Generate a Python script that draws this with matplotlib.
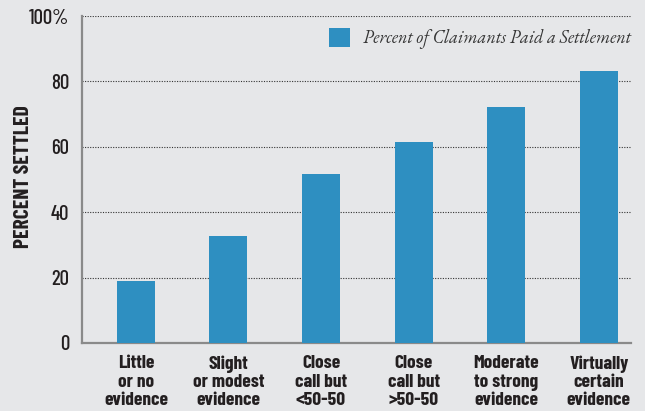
import matplotlib.pyplot as plt
import numpy as np

# categories and values
categories = ["Little\nor no\nevidence", "Slight\nor modest\nevidence", "Close\ncall but\n<50-50",
              "Close\ncall but\n>50-50", "Moderate\nto strong\nevidence", "Virtually\ncertain\nevidence"]
percent_settled = [19.0, 32.8, 51.7, 61.5, 72.2, 83.2]
y_ticks = [0, 20, 40, 60, 80, 100]
y_tick_labels = ["0", "20", "40", "60", "80", "100%"]

SANS = ["Barlow Condensed", "Roboto Condensed", "DejaVu Sans"]
SERIF = ["EB Garamond", "Liberation Serif", "DejaVu Serif"]
BG = "#e6e7e9"
BAR = "#2e8fc1"
INK = "#231f20"

fig = plt.figure(figsize=(6.45, 4.11), dpi=100, facecolor=BG)
ax = fig.add_axes([0.127, 0.1655, 0.851, 0.7955])
ax.set_facecolor(BG)

x = np.arange(len(categories))
ax.bar(x, percent_settled, width=0.41, color=BAR, zorder=3,
       label="Percent of Claimants Paid a Settlement")

ax.set_xlim(-0.583, 5.346)
ax.set_ylim(0, 100)
ax.set_yticks(y_ticks)
ax.set_yticklabels(y_tick_labels, fontfamily=SANS, fontweight="medium", fontsize=15, color=INK)
ax.set_xticks(x)
ax.set_xticklabels(categories, fontfamily=SANS, fontweight="bold", fontsize=14,
                   color=INK, linespacing=1.08)
ax.tick_params(axis="both", length=0)
ax.tick_params(axis="y", pad=9)
ax.tick_params(axis="x", pad=9)

# dotted horizontal guides
for yv in y_ticks[1:]:
    ax.axhline(yv, color="#333333", linestyle=(0, (1, 1.3)), linewidth=0.8, zorder=1)

for side in ["top", "right"]:
    ax.spines[side].set_visible(False)
for side in ["left", "bottom"]:
    ax.spines[side].set_color("#8a8a8a")
    ax.spines[side].set_linewidth(1.6)

ax.set_ylabel("PERCENT SETTLED", fontfamily=SANS, fontweight="bold", fontsize=15.5, color=INK, va="center")
ax.yaxis.set_label_coords(-0.106, 0.509)

leg = ax.legend(loc="upper right", frameon=False, handlelength=1.2, handleheight=1.2,
                handletextpad=0.7, borderpad=0, borderaxespad=0, bbox_to_anchor=(1.0, 0.963),
                prop={"family": SERIF, "style": "italic", "size": 13})
for t in leg.get_texts():
    t.set_color("#333333")

fig.savefig("out.png", dpi=100, facecolor=BG)
